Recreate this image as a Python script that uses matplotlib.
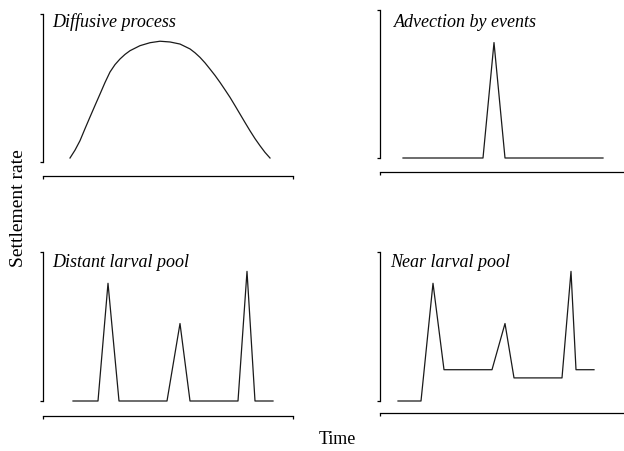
import matplotlib as mpl
mpl.use("Agg")
import matplotlib.pyplot as plt

# values (time 0-100, rate 0-1)
diff_t = [0, 2.5, 5, 7.5, 10, 12.5, 15, 17.5, 20, 22.5, 25, 27.5, 30, 35, 40, 45, 50, 55, 60,
          62.5, 65, 67.5, 70, 72.5, 75, 77.5, 80, 82.5, 85, 87.5, 90, 92.5, 95, 97.5, 100]
diff_y = [0.027, 0.08, 0.144, 0.225, 0.304, 0.382, 0.459, 0.537, 0.608, 0.658, 0.696, 0.727,
          0.752, 0.786, 0.806, 0.816, 0.811, 0.797, 0.764, 0.738, 0.707, 0.670, 0.628,
          0.585, 0.538, 0.488, 0.437, 0.381, 0.324, 0.267, 0.211, 0.158, 0.110, 0.065, 0.027]

adv_t = [0, 40, 45.5, 51, 100]
adv_y = [0, 0, 0.78, 0, 0]

dist_t = [0, 12.5, 17.5, 23, 47, 53.5, 58.5, 82.5, 87, 91, 100]
dist_y = [0, 0, 0.79, 0, 0, 0.52, 0, 0, 0.87, 0, 0]

near_t = [0, 11.5, 17.5, 23, 47, 53.5, 58, 82, 86.5, 89, 98]
near_y = [0, 0, 0.79, 0.21, 0.21, 0.52, 0.155, 0.155, 0.87, 0.21, 0.21]

titles = ["Diffusive process", "Advection by events", "Distant larval pool", "Near larval pool"]
series = [(diff_t, diff_y), (adv_t, adv_y), (dist_t, dist_y), (near_t, near_y)]

W, H = 624, 452
fig = plt.figure(figsize=(W / 100, H / 100), dpi=100)

# layout in pixels: left, top, bottom of y-spine, bottom-spine offset, xlim, title pos
boxes = [(43, 15, 163, 14, (-13.5, 111.5), (52, 27)),
         (380, 11, 159, 14, (-11.5, 113.5), (394, 27)),
         (43, 253, 402, 15, (-15, 110), (52, 267)),
         (380, 253, 402, 12, (-9, 116), (390, 267))]

for (t, y), title, (left, top, bot, off, xl, tp) in zip(series, titles, boxes):
    ax = fig.add_axes([left / W, 1 - bot / H, 250 / W, (bot - top) / H])
    ax.plot(t, y, color="#1a1a1a", lw=0.9, clip_on=False)
    ax.set_xlim(*xl)
    ax.set_ylim(0, 1)
    ax.spines[["top", "right"]].set_visible(False)
    ax.spines["bottom"].set_position(("outward", off * 0.72))
    for s in ("left", "bottom"):
        ax.spines[s].set_linewidth(0.9)
    ax.set_xticks(list(xl))
    ax.set_yticks([0, 1])
    ax.tick_params(length=2.5, width=0.9, labelbottom=False, labelleft=False)
    fig.text(tp[0] / W, 1 - tp[1] / H, title, fontsize=13, style="italic",
             family="Liberation Serif", va="baseline")

fig.text(19 / W, 1 - 208 / H, "Settlement rate", rotation=90, fontsize=14,
         family="Liberation Serif", ha="center", va="center")
fig.text(337 / W, 1 - 440 / H, "Time", fontsize=13,
         family="Liberation Serif", ha="center", va="center")

fig.savefig("out.png", dpi=100)
